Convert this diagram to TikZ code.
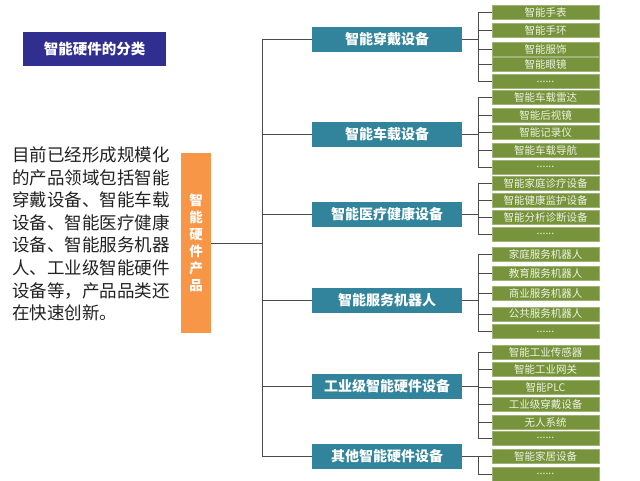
\documentclass[tikz,border=0pt]{standalone}
\usepackage{fontspec}
\setmainfont{Noto Sans CJK SC}
\definecolor{titleblue}{HTML}{302E8F}
\definecolor{prodorange}{HTML}{F79646}
\definecolor{catteal}{HTML}{31849B}
\definecolor{leafgreen}{HTML}{77933C}
\definecolor{leaftext}{HTML}{EEF3E2}
\definecolor{linegray}{HTML}{4A4A4A}
\definecolor{bodytext}{HTML}{222222}
\tikzset{
  titlebox/.style={fill=titleblue, text=white, inner sep=0pt, minimum width=143pt, minimum height=34pt, font=\fontsize{14.5}{16}\selectfont\bfseries},
  prodbox/.style={fill=prodorange, text=white, inner sep=0pt, minimum width=30pt, minimum height=180pt, align=center, font=\fontsize{13.5}{17}\selectfont\bfseries},
  catbox/.style={fill=catteal, text=white, inner sep=0pt, minimum width=150pt, minimum height=25pt, font=\fontsize{14}{16}\selectfont\bfseries},
  leafbox/.style={fill=leafgreen, draw=leafgreen!70!white, line width=0.6pt, text=leaftext, inner sep=0pt, minimum width=107pt, minimum height=14pt, font=\fontsize{10.5}{12}\selectfont},
  conn/.style={draw=linegray, line width=1pt},
  bodytxt/.style={text=bodytext, inner sep=0pt, align=left, anchor=north west, font=\fontsize{17.5}{22.6}\selectfont}
}
\begin{document}
\begin{tikzpicture}[x=1pt,y=-1pt]
\useasboundingbox (0,0) rectangle (640,480);
\fill[white] (0,0) rectangle (640,480);

\node[titlebox] (title) at (94.5,49) {智能硬件的分类};

\node[bodytxt] (desc) at (12,146.5) {目前已经形成规模化\\的产品领域包括智能\\穿戴设备、智能车载\\设备、智能医疗健康\\设备、智能服务机器\\人、工业级智能硬件\\设备等，产品品类还\\在快速创新。};

\node[prodbox] (prod) at (196,243) {智\\能\\硬\\件\\产\\品};

% category boxes
\node[catbox] (c1) at (387,39.5) {智能穿戴设备};
\node[catbox] (c2) at (387,134) {智能车载设备};
\node[catbox] (c3) at (387,214.5) {智能医疗健康设备};
\node[catbox] (c4) at (387,300.5) {智能服务机器人};
\node[catbox] (c5) at (387,386.5) {工业级智能硬件设备};
\node[catbox] (c6) at (387,456.5) {其他智能硬件设备};

% main trunk
\coordinate (tx) at (262,0);
\coordinate (ttop) at (262,39.5);
\coordinate (tbot) at (262,456.5);
\draw[conn] (prod.east) -- (prod.east -| tx);
\draw[conn] (ttop) -- (tbot);
\foreach \c in {c1,c2,c3,c4,c5,c6} {
  \draw[conn] (\c.west -| tx) -- (\c.west);
}

% leaves
\coordinate (sx) at (478,0);
\node[leafbox] (a1) at (545.5,12) {智能手表};
\node[leafbox] (a2) at (545.5,30.5) {智能手环};
\node[leafbox] (a3) at (545.5,49.5) {智能服饰};
\node[leafbox] (a4) at (545.5,64) {智能眼镜};
\node[leafbox] (a5) at (545.5,81.5) {......};

\node[leafbox] (b1) at (545.5,97) {智能车载雷达};
\node[leafbox] (b2) at (545.5,115) {智能后视镜};
\node[leafbox] (b3) at (545.5,132.5) {智能记录仪};
\node[leafbox] (b4) at (545.5,150) {智能车载导航};
\node[leafbox] (b5) at (545.5,167) {......};

\node[leafbox] (d1) at (545.5,183) {智能家庭诊疗设备};
\node[leafbox] (d2) at (545.5,200) {智能健康监护设备};
\node[leafbox] (d3) at (545.5,217.5) {智能分析诊断设备};
\node[leafbox] (d4) at (545.5,234) {......};

\node[leafbox] (e1) at (545.5,254) {家庭服务机器人};
\node[leafbox] (e2) at (545.5,273.5) {教育服务机器人};
\node[leafbox] (e3) at (545.5,293) {商业服务机器人};
\node[leafbox] (e4) at (545.5,314) {公共服务机器人};
\node[leafbox] (e5) at (545.5,331.5) {......};

\node[leafbox] (f1) at (545.5,352) {智能工业传感器};
\node[leafbox] (f2) at (545.5,369) {智能工业网关};
\node[leafbox] (f3) at (545.5,387) {智能PLC};
\node[leafbox] (f4) at (545.5,404.5) {工业级穿戴设备};
\node[leafbox] (f5) at (545.5,422) {无人系统};
\node[leafbox] (f6) at (545.5,438) {......};

\node[leafbox] (g1) at (545.5,456.5) {智能家居设备};
\node[leafbox] (g2) at (545.5,474) {......};

% secondary connectors
\draw[conn] (c1.east) -- (c1.east -| sx);
\draw[conn] (a1.west -| sx) -- (a5.west -| sx);
\foreach \l in {a1,a2,a3,a4,a5} { \draw[conn] (\l.west -| sx) -- (\l.west); }

\draw[conn] (c2.east) -- (c2.east -| sx);
\draw[conn] (b1.west -| sx) -- (b5.west -| sx);
\foreach \l in {b1,b2,b3,b4,b5} { \draw[conn] (\l.west -| sx) -- (\l.west); }

\draw[conn] (c3.east) -- (c3.east -| sx);
\draw[conn] (d1.west -| sx) -- (d4.west -| sx);
\foreach \l in {d1,d2,d3,d4} { \draw[conn] (\l.west -| sx) -- (\l.west); }

\draw[conn] (c4.east) -- (c4.east -| sx);
\draw[conn] (e1.west -| sx) -- (e5.west -| sx);
\foreach \l in {e1,e2,e3,e4,e5} { \draw[conn] (\l.west -| sx) -- (\l.west); }

\draw[conn] (c5.east) -- (c5.east -| sx);
\draw[conn] (f1.west -| sx) -- (f6.west -| sx);
\foreach \l in {f1,f2,f3,f4,f5,f6} { \draw[conn] (\l.west -| sx) -- (\l.west); }

\draw[conn] (c6.east) -- (c6.east -| sx);
\draw[conn] (g1.west -| sx) -- (g2.west -| sx);
\foreach \l in {g1,g2} { \draw[conn] (\l.west -| sx) -- (\l.west); }
\end{tikzpicture}
\end{document}
